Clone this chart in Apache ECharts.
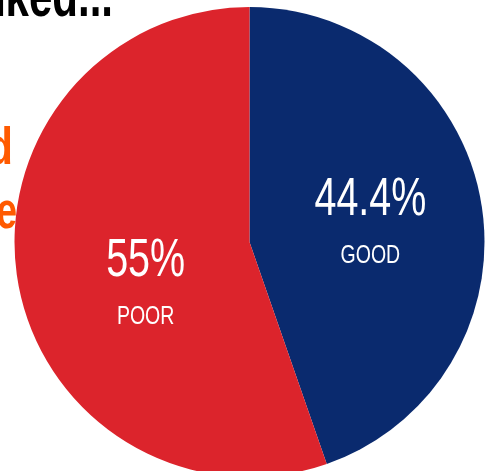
<!DOCTYPE html>
<html>
<head>
<meta charset="utf-8">
<script src="https://cdn.jsdelivr.net/npm/echarts@6/dist/echarts.min.js"></script>
<style>
html,body{margin:0;padding:0;background:#fff;}
#chart{width:493px;height:471px;}
</style>
</head>
<body>
<div id="chart"></div>
<script>
const categories = ['GOOD', 'POOR'];
const values = [44.4, 55];
const valueLabels = ['44.4%', '55%'];
const colors = ['#0a2a6e', '#dc242c'];

const FONT = '"Liberation Sans", Arial, sans-serif';
// label offsets relative to mid-radius point of each slice: [dx, dyValue, dyName]
const labelShift = [[5, -22, 33], [12, 0, 55]];

const chart = echarts.init(document.getElementById('chart'), null, {renderer: 'canvas'});

const titleGraphics = [
  {type: 'text', x: 113, y: -1, scaleX: 0.7, style: {x: 0, y: 0, text: 'Ranked...', font: 'bold 60px ' + FONT, fill: '#000000', align: 'right', verticalAlign: 'middle'}},
  {type: 'text', x: 13, y: 150, scaleX: 0.8, style: {x: 0, y: 0, text: 'Good', font: 'bold 52px ' + FONT, fill: '#ff5a00', align: 'right', verticalAlign: 'middle'}},
  {type: 'text', x: 17, y: 214, scaleX: 0.72, style: {x: 0, y: 0, text: 'Rate', font: 'bold 52px ' + FONT, fill: '#ff5a00', align: 'right', verticalAlign: 'middle'}}
];

chart.setOption({
  animation: false,
  backgroundColor: '#ffffff',
  graphic: titleGraphics,
  series: [{
    type: 'pie',
    center: [249.5, 242],
    radius: [0, 235],
    startAngle: 90,
    clockwise: true,
    silent: true,
    label: {show: false},
    labelLine: {show: false},
    itemStyle: {borderWidth: 0},
    data: categories.map((c, i) => ({
      name: c,
      value: values[i],
      itemStyle: {color: colors[i]}
    }))
  }]
});

// Place condensed labels at each slice's mid-radius point, from the library's own layout
const data = chart.getModel().getSeriesByIndex(0).getData();
const labelGraphics = [];
categories.forEach((c, i) => {
  const L = data.getItemLayout(i);
  const mid = (L.startAngle + L.endAngle) / 2;
  const px = L.cx + L.r * 0.5 * Math.cos(mid);
  const py = L.cy + L.r * 0.5 * Math.sin(mid);
  const s = labelShift[i];
  labelGraphics.push({
    type: 'text', x: px + s[0], y: py + s[1], scaleX: 0.73, z: 10,
    style: {x: 0, y: 0, text: valueLabels[i], font: '54px ' + FONT, fill: '#ffffff', align: 'center', verticalAlign: 'middle'}
  });
  labelGraphics.push({
    type: 'text', x: px + s[0], y: py + s[2], scaleX: 0.75, z: 10,
    style: {x: 0, y: 0, text: c, font: '26px ' + FONT, fill: '#ffffff', align: 'center', verticalAlign: 'middle'}
  });
});
chart.setOption({graphic: titleGraphics.concat(labelGraphics)});
</script>
</body>
</html>
